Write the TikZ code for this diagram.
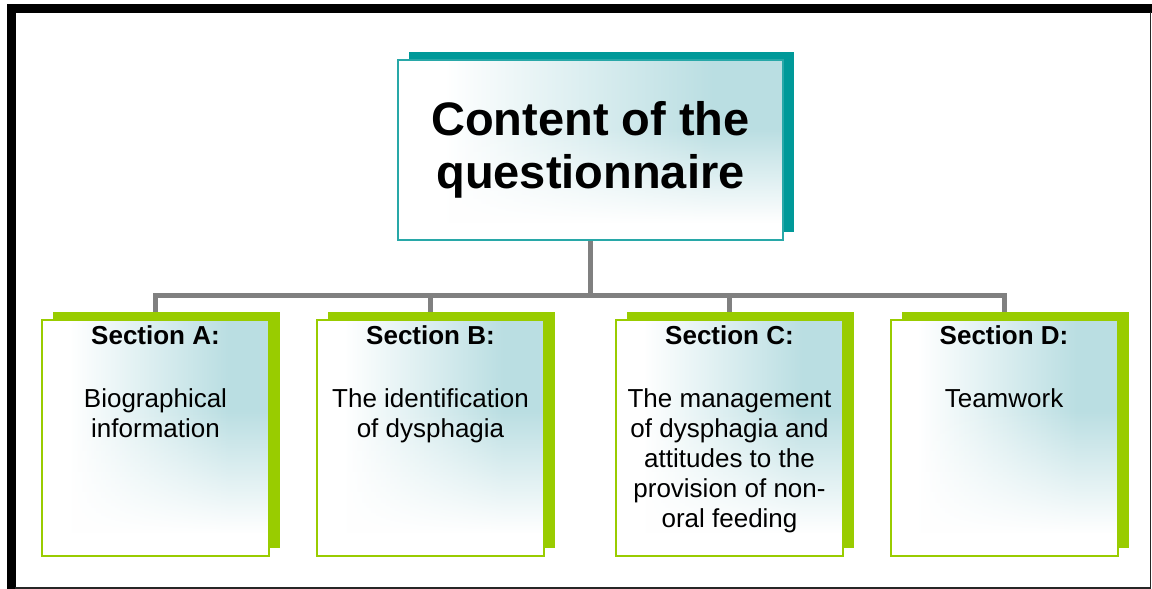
\documentclass[tikz,border=0pt]{standalone}
\usepackage{fontspec}
\setmainfont{Liberation Sans}
\usetikzlibrary{shadows,fadings}
\definecolor{shadeteal}{RGB}{186,222,226}
\definecolor{tealdark}{RGB}{0,153,153}
\definecolor{tealline}{RGB}{40,168,168}
\definecolor{sgreen}{RGB}{153,204,0}
\definecolor{conngray}{RGB}{128,128,128}
\pgfdeclarehorizontalshading{hshade}{100bp}{color(0bp)=(white); color(25bp)=(white); color(31bp)=(white); color(66bp)=(shadeteal); color(100bp)=(shadeteal)}
\pgfdeclareverticalshading{vfadeshade}{100bp}{color(0bp)=(pgftransparent!0); color(30bp)=(pgftransparent!0); color(56bp)=(pgftransparent!100); color(100bp)=(pgftransparent!100)}
\pgfdeclarefading{vfade}{\pgfuseshading{vfadeshade}}
\pgfdeclarelayer{background}
\pgfsetlayers{background,main}
\tikzset{
  gradfill/.style={path picture={
    \shade[shading=hshade] (path picture bounding box.south west) rectangle (path picture bounding box.north east);
    \fill[white, path fading=vfade] (path picture bounding box.south west) rectangle (path picture bounding box.north east);}},
  titlebox/.style={draw=tealline, line width=1.5pt, fill=white, gradfill,
    minimum width=385pt, minimum height=180pt, inner sep=0pt, align=center,
    font=\fontsize{47}{53}\selectfont\bfseries,
    drop shadow={shadow xshift=11pt, shadow yshift=8pt, fill=tealdark, opacity=1}},
  secbox/.style={draw=sgreen, line width=2pt, fill=white, gradfill,
    minimum width=227pt, inner xsep=0pt, inner ysep=3pt,
    font=\fontsize{26}{30}\selectfont,
    drop shadow={shadow xshift=11pt, shadow yshift=8pt, fill=sgreen, opacity=1}},
  conn/.style={draw=conngray, line width=5pt},
}
\newcommand{\sectxt}[2]{\parbox[t][230pt][t]{224pt}{\centering\strut\textbf{#1}\\[33pt]#2}}
\begin{document}
\begin{tikzpicture}[x=1pt, y=-1pt]
\useasboundingbox (0,0) rectangle (1152,589);
% frame
\fill[black] (7,4) rectangle (1152,12.5);
\fill[black] (7,4) rectangle (15.5,589);
\draw[black!85, line width=1.5pt] (1150.5,12) -- (1150.5,588) -- (15,588);
% nodes
\node[titlebox] (top) at (590.5,150) {Content of the\\questionnaire};
\node[secbox] (a) at (155.5,438) {\sectxt{Section A:}{Biographical\\information}};
\node[secbox] (b) at (430.5,438) {\sectxt{Section B:}{The identification\\of dysphagia}};
\node[secbox] (c) at (729.5,438) {\sectxt{Section C:}{The management\\of dysphagia and\\attitudes to the\\provision of non-\\oral feeding}};
\node[secbox] (d) at (1004,438) {\sectxt{Section D:}{Teamwork}};
% connectors
\begin{pgfonlayer}{background}
\coordinate (j) at (590.5,295);
\draw[conn] (top.south) -- (j);
\draw[conn] (j) -| (a.north);
\draw[conn] (j) -| (b.north);
\draw[conn] (j) -| (c.north);
\draw[conn] (j) -| (d.north);
\end{pgfonlayer}
\end{tikzpicture}
\end{document}
